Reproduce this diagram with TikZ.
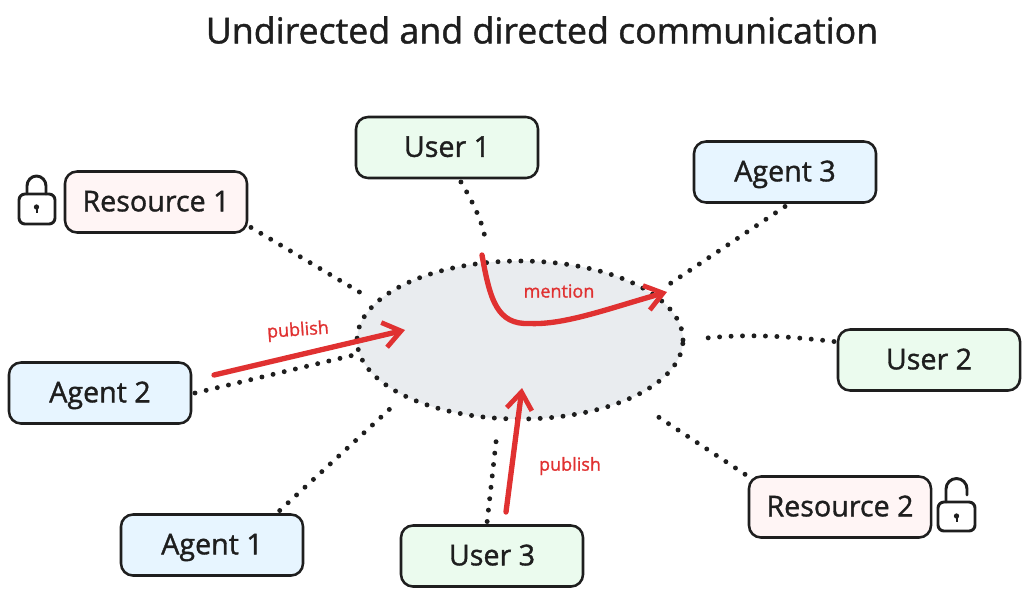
\documentclass[tikz,border=0pt]{standalone}
\usepackage{fontspec}
\setmainfont{Open Sans}[RawFeature={embolden=1.2}]
\usetikzlibrary{arrows.meta,shapes.geometric}
\definecolor{ink}{HTML}{1E1E1E}
\definecolor{sketchred}{HTML}{E03131}
\definecolor{usergreen}{HTML}{EBFBEE}
\definecolor{agentblue}{HTML}{E7F5FF}
\definecolor{resourcepink}{HTML}{FFF5F5}
\definecolor{hubgrey}{HTML}{E9ECEF}
\begin{document}
\begin{tikzpicture}[x=0.75pt,y=-0.75pt]
		\tikzstyle{box} = [draw=ink, line width=1.9pt, rounded corners=9pt, minimum width=136.5pt, minimum height=45.75pt, outer sep=3pt, text=ink, text height=17pt, text depth=3pt, inner ysep=0pt, font=\fontsize{21.5}{25}\selectfont]
		\tikzstyle{userbox} = [box, fill=usergreen]
		\tikzstyle{agentbox} = [box, fill=agentblue]
		\tikzstyle{resourcebox} = [box, fill=resourcepink]
		\tikzstyle{dots} = [draw=ink, line width=3.7pt, line cap=round, dash pattern=on 0pt off 8.6pt]
		\tikzstyle{redarrow} = [draw=sketchred, line width=4pt, line cap=round, line join=round, -{Straight Barb[length=13pt,width=19pt,line width=3.6pt]}]
		\tikzstyle{redlabel} = [text=sketchred, font=\fontsize{13.5}{16}\selectfont]
		\tikzstyle{lockline} = [draw=ink, line width=2.2pt, line cap=round]
		\useasboundingbox (0,0) rectangle (1030,597);
		\node [text=ink, font=\fontsize{26.8}{30}\selectfont] (title) at (542,30) {Undirected and directed communication};
		% centre
		\node [shape=ellipse, dots, fill=hubgrey, inner sep=0, minimum width=244.5pt, minimum height=118.5pt] (hub) at (520,340) {};
		% boxes
		\node [userbox] (user1) at (447,147.5) {User 1};
		\node [agentbox] (agent3) at (785,172) {Agent 3};
		\node [resourcebox] (resource1) at (156,202) {Resource 1};
		\node [userbox] (user2) at (929,360) {User 2};
		\node [agentbox] (agent2) at (100,393) {Agent 2};
		\node [agentbox] (agent1) at (212,545) {Agent 1};
		\node [userbox] (user3) at (492,556) {User 3};
		\node [resourcebox] (resource2) at (840,507) {Resource 2};
		% dotted links
		\draw [dots, shorten >=15.5pt] (user1.-68) to [bend left=12] (hub.112);
		\draw [dots, shorten >=11pt] (agent3.south) -- (hub.19);
		\draw [dots, shorten >=10pt] (resource1.-15) -- (hub.165);
		\draw [dots, shorten >=16.5pt] (user2.169) to [bend right=6] (hub.0);
		\draw [dots, shorten >=4pt] (agent2.east) -- (hub.185);
		\draw [dots, shorten >=10.5pt] (agent1.27) -- (hub.206);
		\draw [dots, shorten >=7.5pt] (user3.98) -- (hub.255);
		\draw [dots, shorten >=20pt] (resource2.161) -- (hub.-28);
		% red arrows
		\coordinate (publeft) at (214,375);
		\coordinate (publeftend) at (405,330);
		\coordinate (mentionstart) at (482,255);
		\coordinate (mentionend) at (667,292);
		\coordinate (pubup) at (506,512);
		\coordinate (pubupend) at (522,388);
		\draw [redarrow] (publeft) -- (publeftend);
		\draw [redarrow] (pubup) -- (pubupend);
		\draw [redarrow] (mentionstart) .. controls (490,300) and (497,325) .. (530,323.5) .. controls (565,325) and (610,308) .. (mentionend);
		\node [redlabel, rotate=4] (publish1) at (298,331) {publish};
		\node [redlabel] (mention) at (559,291) {mention};
		\node [redlabel] (publish2) at (570,466) {publish};
		% locks
		\draw [lockline, rounded corners=4.5pt] (19,194) rectangle (55,224);
		\draw [lockline] (27,194) -- (27,186) arc [start angle=180, end angle=0, x radius=9.5, y radius=-10] -- (46,194);
		\fill [ink] (36.5,207) circle (2pt);
		\draw [ink, line width=1.5pt] (36.5,207) -- (36.5,213);
		\draw [lockline, rounded corners=4.5pt] (938,502) rectangle (975,531);
		\draw [lockline] (946,502) -- (946,489) arc [start angle=180, end angle=0, x radius=10.5, y radius=-10.5] -- (967,495);
		\fill [ink] (956.5,516) circle (2pt);
		\draw [ink, line width=1.5pt] (956.5,516) -- (956.5,522);
\end{tikzpicture}
\end{document}
